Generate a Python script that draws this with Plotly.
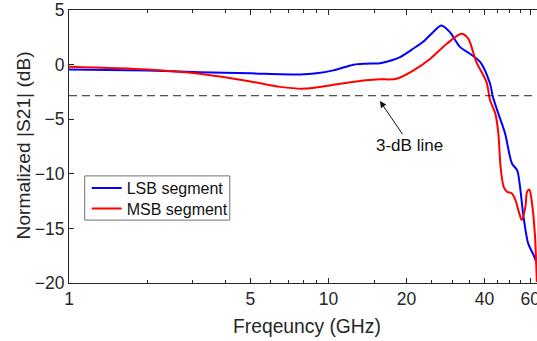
import numpy as np
import plotly.graph_objects as go

# ---- data ----
lsb_freq = [1.00, 2.00, 3.19, 5.00, 7.77, 9.0, 10.45, 12.5, 14.0, 15.8, 17.8, 18.9, 21.2, 23.1,
            25.3, 27.3, 29.4, 32.2, 35.1, 38.5, 42.0, 43.0, 45.2, 48.0, 51.0, 53.4, 54.8, 56.3,
            58.9, 61.7, 63.6]
lsb_db = [-0.44, -0.55, -0.69, -0.80, -0.90, -0.80, -0.53, -0.01, 0.08, 0.13, 0.45, 0.69, 1.45,
          2.06, 2.97, 3.58, 2.97, 1.60, 1.00, 0.23, -1.75, -2.9, -4.49, -6.32, -9.06, -9.67,
          -11.2, -13.63, -16.37, -17.4, -18.2]

msb_freq = [1.00, 2.00, 3.19, 5.00, 6.5, 8.1, 10.4, 14.0, 15.8, 18.3, 21.3, 24.7, 28.6, 32.6,
            34.6, 37.2, 40.7, 42.0, 44.0, 45.2, 46.1, 47.4, 48.8, 51.0, 52.6, 54.4, 55.6, 57.5,
            58.3, 59.5, 60.7, 62.5, 63.6]
msb_db = [-0.19, -0.44, -0.83, -1.54, -2.04, -2.20, -1.86, -1.44, -1.35, -1.30, -0.53, 0.54,
          1.91, 2.82, 2.37, 0.23, -1.60, -3.27, -4.49, -6.30, -9.37, -11.2, -11.65, -11.8,
          -12.4, -13.6, -14.24, -13.0, -11.65, -11.43, -12.4, -15.5, -19.9]

three_db_level = -2.85
x_tick_vals = [1, 5, 10, 20, 40, 60]
x_tick_text = ["1", "5", "10", "20", "40", "60"]
x_minor_vals = [2, 3, 4, 6, 7, 8, 9, 15, 25, 30, 35, 45, 50, 55]
y_tick_vals = [-20, -15, -10, -5, 0, 5]

FONT = "Liberation Sans, Arial, sans-serif"
AX = "#262626"

W, H = 537, 341
L, T, B = 69.3, 9.5, 58
PW, PH = W - L, H - T - B


def px_x(p):
    return (p - L) / PW


def px_y(p):
    return (H - B - p) / PH


fig = go.Figure()
fig.add_trace(go.Scatter(x=lsb_freq, y=lsb_db, mode="lines", name="LSB segment",
                         legend="legend",
                         line=dict(color="#0000ff", width=2, shape="spline", smoothing=0.8)))
fig.add_trace(go.Scatter(x=msb_freq, y=msb_db, mode="lines", name="MSB segment",
                         legend="legend2",
                         line=dict(color="#ff0000", width=2, shape="spline", smoothing=0.8)))

fig.add_shape(type="line", xref="x domain", yref="y", x0=0, x1=1,
              y0=three_db_level, y1=three_db_level,
              line=dict(color="#222222", width=1, dash="8px,5px"))

# legend frame
fig.add_shape(type="rect", xref="paper", yref="paper",
              x0=px_x(85), x1=px_x(230), y0=px_y(220), y1=px_y(175.7),
              line=dict(color="#707070", width=1), fillcolor="white", layer="below")

fig.add_annotation(x=np.log10(15.8), y=-3.34, xref="x", yref="y",
                   text="3-dB line", showarrow=True, ax=30, ay=44,
                   arrowhead=2, arrowsize=1.3, arrowwidth=1, arrowcolor="#111111",
                   font=dict(family=FONT, size=17, color="#111111"))

fig.add_annotation(x=px_x(307), y=px_y(327), xref="paper", yref="paper",
                   text="Freqeuncy (GHz)",
                   showarrow=False, xanchor="center", yanchor="middle",
                   font=dict(family=FONT, size=19.3, color=AX))
fig.add_annotation(x=px_x(24), y=px_y(145.5), xref="paper", yref="paper",
                   text="Normalized |S21| (dB)", textangle=-90,
                   showarrow=False, xanchor="center", yanchor="middle",
                   font=dict(family=FONT, size=19.2, color=AX))

leg_common = dict(xanchor="left", yanchor="middle", bgcolor="rgba(0,0,0,0)", borderwidth=0,
                  font=dict(family=FONT, size=16, color="#111111"), itemwidth=30)

fig.update_layout(
    width=W, height=H,
    margin=dict(l=L, r=0, t=T, b=B, pad=0),
    plot_bgcolor="white", paper_bgcolor="white",
    font=dict(family=FONT, color=AX),
    showlegend=True,
    legend=dict(x=px_x(87), y=px_y(188), **leg_common),
    legend2=dict(x=px_x(87), y=px_y(208.5), **leg_common),
    xaxis=dict(type="log", range=[0, np.log10(63.7)], showgrid=False, zeroline=False,
               showline=True, linecolor=AX, linewidth=1, mirror="ticks",
               ticks="inside", ticklen=5, tickcolor=AX, tickwidth=1,
               tickvals=x_tick_vals, ticktext=x_tick_text,
               tickfont=dict(family=FONT, size=17.5, color=AX),
               ticklabeloverflow="allow",
               minor=dict(tickvals=x_minor_vals, ticks="inside", ticklen=3,
                          tickcolor=AX, tickwidth=1, showgrid=False),
               automargin=False),
    yaxis=dict(range=[-20, 5], showgrid=False, zeroline=False,
               showline=True, linecolor=AX, linewidth=1, mirror=False,
               ticks="inside", ticklen=5, tickcolor=AX, tickwidth=1,
               tickvals=y_tick_vals,
               tickfont=dict(family=FONT, size=17.5, color=AX),
               automargin=False),
)

fig.write_html("out.html", config={"displayModeBar": False},
               post_script="document.body.style.margin='0';"
                           "document.body.style.overflow='hidden';")
